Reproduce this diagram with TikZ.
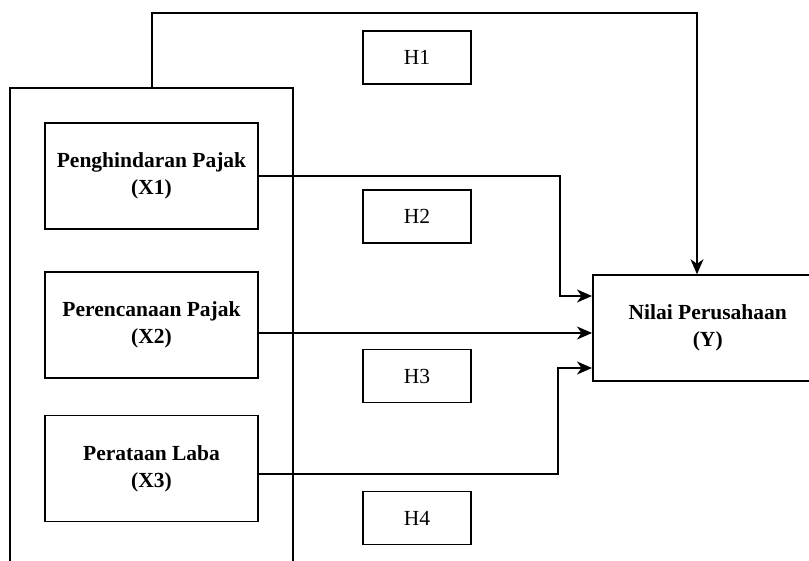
\documentclass[tikz,border=0pt]{standalone}
\usepackage{fontspec}
\setmainfont{Liberation Serif}
\usetikzlibrary{arrows.meta, positioning}

\begin{document}
\begin{tikzpicture}[
    x=1pt, y=-1pt,
    every node/.style={font=\fontsize{21.5}{27}\selectfont},
    varbox/.style={rectangle, draw, line width=1.5pt, align=center, font=\bfseries\fontsize{21.5}{27}\selectfont, minimum width=213pt, minimum height=106pt, inner sep=0pt},
    hypbox/.style={rectangle, draw, line width=1.5pt, minimum width=108pt, minimum height=53pt, inner sep=0pt},
    link/.style={line width=1.5pt, -{Stealth[length=15pt, width=13pt, inset=4.5pt]}},
]
% Page: 809 x 561, 1 unit = 1 px
\clip (0,0) rectangle (809,561);
% Group of independent variables (open at the bottom)
\draw[line width=1.5pt] (10,580) -- (10,88) -- (293,88) -- (293,580);
\coordinate (grp) at (152,88);
\coordinate (top) at (697,13);
% Independent variables
\node[varbox] (x1) at (151.5,176) {Penghindaran Pajak\\(X1)};
\node[varbox] (x2) at (151.5,325) {Perencanaan Pajak\\(X2)};
\node[varbox] (x3) at (151.5,468.5) {Perataan Laba\\(X3)};
% Dependent variable
\node[varbox, minimum width=230pt, anchor=west] (y) at (592,328) {Nilai Perusahaan\\(Y)};
% Hypotheses
\node[hypbox] (h1) at (417,57.5) {H1};
\node[hypbox] (h2) at (417,216.5) {H2};
\node[hypbox] (h3) at (417,376) {H3};
\node[hypbox] (h4) at (417,518) {H4};
% Connectors
\draw[link] (grp) |- (top) -- (top |- y.north);
\draw[link] (x1.east) -- ++(301,0) |- ([yshift=32pt]y.west);
\draw[link] ([yshift=-8pt]x2.east) -- ([yshift=-5pt]y.west);
\draw[link] ([yshift=-5.5pt]x3.east) -- ++(299,0) |- ([yshift=-40pt]y.west);
\end{tikzpicture}
\end{document}
